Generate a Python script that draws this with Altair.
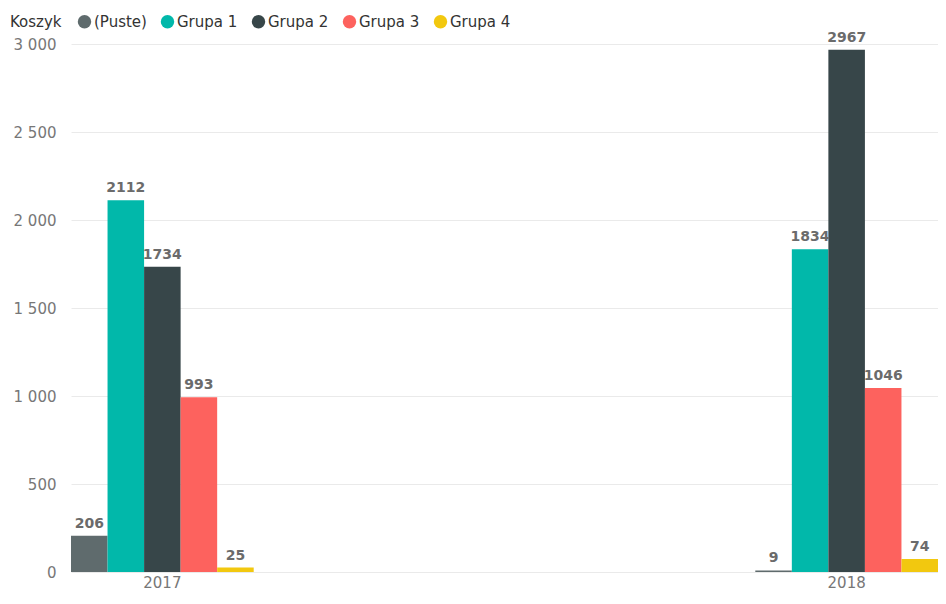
import altair as alt
import pandas as pd

years = ["2017", "2018"]
groups = ["(Puste)", "Grupa 1", "Grupa 2", "Grupa 3", "Grupa 4"]
values_2017 = [206, 2112, 1734, 993, 25]
values_2018 = [9, 1834, 2967, 1046, 74]
colors = ["#5F6B6D", "#01B8AA", "#374649", "#FD625E", "#F2C80F"]
y_ticks = [0, 500, 1000, 1500, 2000, 2500, 3000]

rows = []
for g, v in zip(groups, values_2017):
    rows.append({"year": "2017", "group": g, "value": v})
for g, v in zip(groups, values_2018):
    rows.append({"year": "2018", "group": g, "value": v})
df = pd.DataFrame(rows)

FONT = "DejaVu Sans"

x = alt.X("year:N", sort=years, title=None,
          scale=alt.Scale(paddingInner=0.733, paddingOuter=0),
          axis=alt.Axis(labelAngle=0, ticks=False, domain=False, grid=False,
                        labelColor="#777777", labelFontSize=15, labelFont=FONT,
                        labelPadding=3))
xo = alt.XOffset("group:N", sort=groups, scale=alt.Scale(paddingInner=0, paddingOuter=0))
y = alt.Y("value:Q", title=None,
          scale=alt.Scale(domain=[0, 3000], nice=False),
          axis=alt.Axis(values=y_ticks, ticks=False, domain=False,
                        gridColor="#EAEAEA", labelColor="#777777", labelFontSize=15,
                        labelFont=FONT, labelPadding=15,
                        labelExpr="replace(format(datum.value, ','), ',', ' ')"))

bars = alt.Chart(df).mark_bar().encode(
    x=x, xOffset=xo, y=y,
    color=alt.Color("group:N", sort=groups,
                    scale=alt.Scale(domain=groups, range=colors),
                    legend=alt.Legend(title="Koszyk", orient="none", direction="horizontal",
                                      legendX=-61, legendY=-30, titleOrient="left",
                                      titleFont=FONT, titleFontSize=15, titleFontWeight="normal",
                                      titleColor="#333333", titlePadding=15,
                                      labelFont=FONT, labelFontSize=15, labelColor="#333333",
                                      symbolType="circle", symbolSize=180, symbolStrokeWidth=0,
                                      labelOffset=2, columnPadding=13, padding=0))
)

labels = alt.Chart(df).mark_text(dy=-12, font=FONT, fontSize=14, fontWeight="bold",
                                 color="#6B6B6B").encode(
    x=x, xOffset=xo, y=y, text=alt.Text("value:Q", format="d")
)

chart = alt.layer(bars, labels).properties(
    width=867, height=528,
    autosize=alt.AutoSizeParams(type="none"),
    padding={"left": 63, "top": 36, "right": 0, "bottom": 24},
    background="white",
).configure_view(stroke=None)

chart.save("out.html", embed_options={"renderer": "svg", "actions": False})
